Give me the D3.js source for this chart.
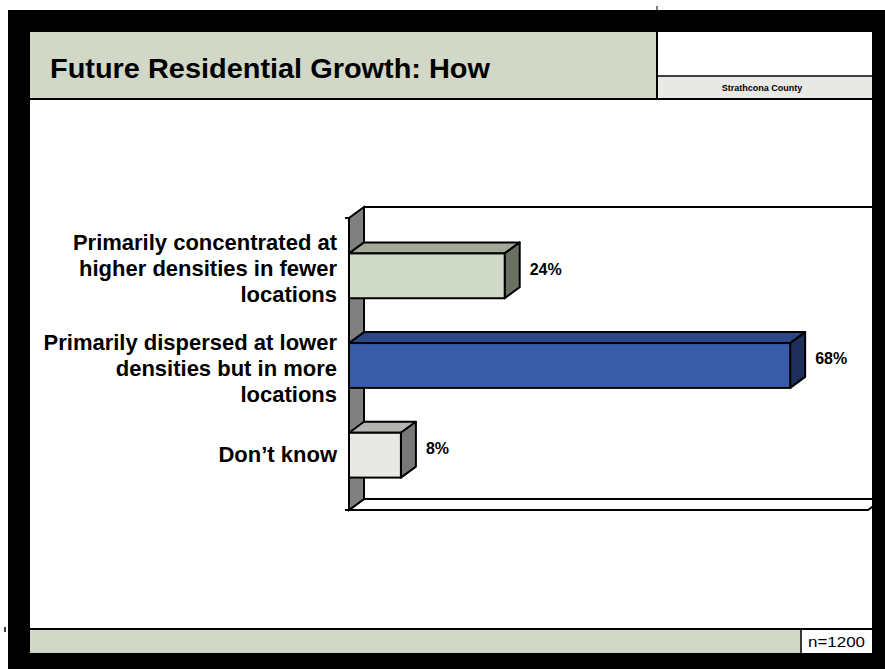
<!DOCTYPE html>
<html>
<head>
<meta charset="utf-8">
<script src="https://cdn.jsdelivr.net/npm/d3@7/dist/d3.min.js"></script>
<style>
  html, body { margin: 0; padding: 0; background: #fff; }
  svg { display: block; }
  text { font-family: "Liberation Sans", Arial, sans-serif; }
</style>
</head>
<body>
<svg id="chart" width="885" height="669"></svg>
<script>
// Survey responses
const categories = ["concentrated", "dispersed", "dontknow"];
const categoryLabels = [
  ["Primarily concentrated at", "higher densities in fewer", "locations"],
  ["Primarily dispersed at lower", "densities but in more", "locations"],
  ["Don\u2019t know"]
];
const values = [24, 68, 8];
const valueLabels = ["24%", "68%", "8%"];
const title = "Future Residential Growth: How";
const subtitle = "Strathcona County";
const sampleNote = "n=1200";

// Face colours for each bar: front, top, side
const barColors = [
  { front: "#d0d8c8", top: "#a3a898", side: "#6a7062" },
  { front: "#385ca8", top: "#2c4785", side: "#1e2f5c" },
  { front: "#e8e8e4", top: "#b5b5b0", side: "#787878" }
];

const W = 885, H = 669;
const svg = d3.select("#chart");

// 3-D depth offset of the plot
const dx = 15, dy = -11;

const x = d3.scaleLinear().domain([0, 80]).range([349, 868]);
const y = d3.scaleBand().domain(categories).range([231, 500])
  .paddingInner(0.5).paddingOuter(0.25);

const plotTop = 218, plotBottom = 510;
const x0 = x(0), xMax = x(80);

const chart = svg.append("g");

// back wall edges
chart.append("line")
  .attr("x1", x0 + dx).attr("y1", plotTop + dy)
  .attr("x2", xMax + dx + 10).attr("y2", plotTop + dy)
  .attr("stroke", "#000").attr("stroke-width", 2);

// floor
chart.append("path")
  .attr("d", `M${x0},${plotBottom}L${x0 + dx},${plotBottom + dy}L${xMax + dx},${plotBottom + dy}L${xMax},${plotBottom}Z`)
  .attr("fill", "#fff").attr("stroke", "#000").attr("stroke-width", 2);

// left wall
chart.append("path")
  .attr("d", `M${x0},${plotTop}L${x0 + dx},${plotTop + dy}L${x0 + dx},${plotBottom + dy}L${x0},${plotBottom}Z`)
  .attr("fill", "#808080").attr("stroke", "#000").attr("stroke-width", 2);

// axis ticks at the corners
chart.append("line")
  .attr("x1", x0 - 4).attr("y1", plotTop).attr("x2", x0).attr("y2", plotTop)
  .attr("stroke", "#000").attr("stroke-width", 2);
chart.append("line")
  .attr("x1", x0 - 4).attr("y1", plotBottom).attr("x2", x0).attr("y2", plotBottom)
  .attr("stroke", "#000").attr("stroke-width", 2);

// bars
const bars = chart.selectAll("g.bar").data(values).enter().append("g").attr("class", "bar");
bars.each(function (v, i) {
  const g = d3.select(this);
  const by = y(categories[i]), bh = y.bandwidth();
  const bx1 = x(v);
  const c = barColors[i];
  g.append("path")
    .attr("d", `M${x0},${by}L${x0 + dx},${by + dy}L${bx1 + dx},${by + dy}L${bx1},${by}Z`)
    .attr("fill", c.top).attr("stroke", "#000").attr("stroke-width", 2).attr("stroke-linejoin", "round");
  g.append("path")
    .attr("d", `M${bx1},${by}L${bx1 + dx},${by + dy}L${bx1 + dx},${by + bh + dy}L${bx1},${by + bh}Z`)
    .attr("fill", c.side).attr("stroke", "#000").attr("stroke-width", 2).attr("stroke-linejoin", "round");
  g.append("rect")
    .attr("x", x0).attr("y", by).attr("width", bx1 - x0).attr("height", bh)
    .attr("fill", c.front).attr("stroke", "#000").attr("stroke-width", 2);
  g.append("text")
    .attr("x", bx1 + dx + 10).attr("y", by + bh / 2 + dy / 2)
    .attr("dominant-baseline", "middle")
    .attr("font-size", 16).attr("font-weight", "bold").attr("fill", "#000")
    .text(valueLabels[i]);
});

// category axis line
chart.append("line")
  .attr("x1", x0).attr("y1", plotTop).attr("x2", x0).attr("y2", plotBottom)
  .attr("stroke", "#000").attr("stroke-width", 2);

// category labels, wrapped onto several lines
const lineH = 26;
const labelShift = [-6, 5, 1];
categories.forEach((cat, i) => {
  const lines = categoryLabels[i];
  const cy = y(cat) + y.bandwidth() / 2 + labelShift[i];
  const t = chart.append("text")
    .attr("text-anchor", "end")
    .attr("font-size", 22).attr("font-weight", "bold").attr("fill", "#000");
  lines.forEach((ln, k) => {
    t.append("tspan")
      .attr("x", 337)
      .attr("y", cy + (k - (lines.length - 1) / 2) * lineH)
      .attr("dominant-baseline", "middle")
      .text(ln);
  });
});

// slide frame
const frame = svg.append("g");
frame.append("rect").attr("x", 8).attr("y", 10).attr("width", W - 8).attr("height", 22).attr("fill", "#000");
frame.append("rect").attr("x", 8).attr("y", 10).attr("width", 22).attr("height", H - 10).attr("fill", "#000");
frame.append("rect").attr("x", 872).attr("y", 10).attr("width", W - 872).attr("height", H - 10).attr("fill", "#000");
frame.append("rect").attr("x", 8).attr("y", 653).attr("width", W - 8).attr("height", H - 653).attr("fill", "#000");
frame.append("line").attr("x1", 657).attr("y1", 6).attr("x2", 657).attr("y2", 10).attr("stroke", "#000");
frame.append("line").attr("x1", 5).attr("y1", 627).attr("x2", 5).attr("y2", 632).attr("stroke", "#000").attr("stroke-width", 1.5);

// header
frame.append("rect").attr("x", 30).attr("y", 32).attr("width", 627).attr("height", 66).attr("fill", "#d1d8c8");
frame.append("rect").attr("x", 658).attr("y", 77).attr("width", 214).attr("height", 21).attr("fill", "#e8e8e4");
frame.append("line").attr("x1", 657).attr("y1", 32).attr("x2", 657).attr("y2", 98).attr("stroke", "#000").attr("stroke-width", 2);
frame.append("line").attr("x1", 658).attr("y1", 76).attr("x2", 872).attr("y2", 76).attr("stroke", "#000").attr("stroke-width", 1.5);
frame.append("line").attr("x1", 30).attr("y1", 99).attr("x2", 872).attr("y2", 99).attr("stroke", "#000").attr("stroke-width", 2);
frame.append("text")
  .attr("x", 50).attr("y", 78)
  .attr("font-size", 28).attr("font-weight", "bold").attr("fill", "#000")
  .attr("textLength", 440).attr("lengthAdjust", "spacingAndGlyphs")
  .text(title);
frame.append("text")
  .attr("x", 762).attr("y", 91)
  .attr("text-anchor", "middle")
  .attr("font-size", 9).attr("font-weight", "bold").attr("fill", "#000")
  .text(subtitle);

// footer
frame.append("line").attr("x1", 30).attr("y1", 629).attr("x2", 872).attr("y2", 629).attr("stroke", "#000").attr("stroke-width", 2);
frame.append("rect").attr("x", 30).attr("y", 630).attr("width", 771).attr("height", 23).attr("fill", "#d1d8c8");
frame.append("line").attr("x1", 801).attr("y1", 630).attr("x2", 801).attr("y2", 653).attr("stroke", "#000").attr("stroke-width", 1.5);
frame.append("text")
  .attr("x", 808).attr("y", 647)
  .attr("font-size", 15).attr("fill", "#000")
  .attr("textLength", 57).attr("lengthAdjust", "spacingAndGlyphs")
  .text(sampleNote);
</script>
</body>
</html>
